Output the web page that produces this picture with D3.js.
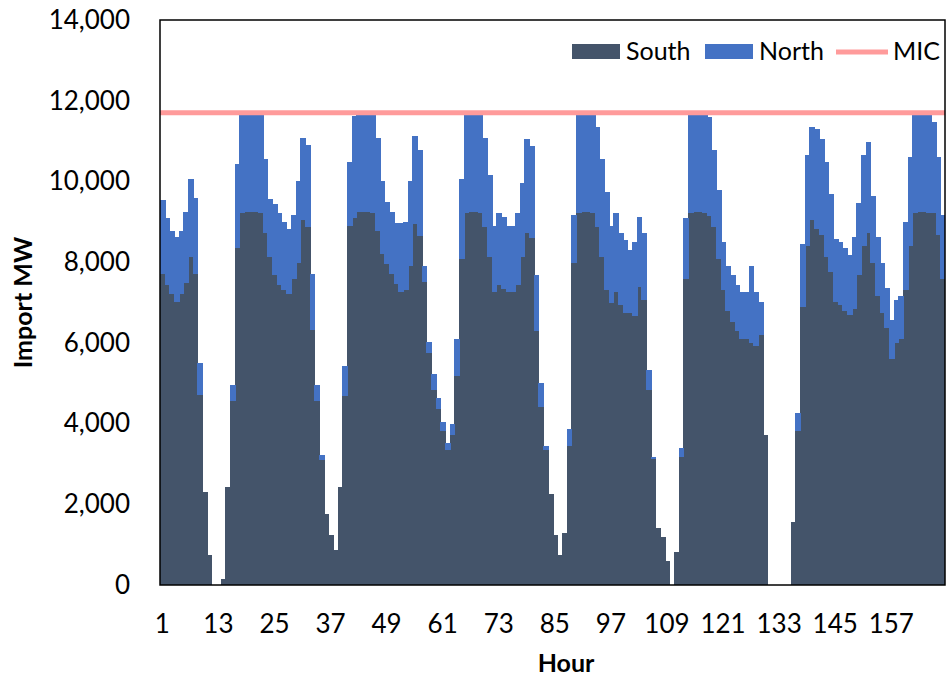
<!DOCTYPE html>
<html>
<head>
<meta charset="utf-8">
<script src="https://cdn.jsdelivr.net/npm/d3@7"></script>
<style>
  body { margin: 0; background: #fff; }
  text { font-family: Lato, "Open Sans", sans-serif; fill: #000; }
</style>
</head>
<body>
<div id="chart"></div>
<script>
// hours of the week (categories)
var hours = d3.range(1, 169);

// import MW, South part (one value per hour)
var south = [
  7710, 7440, 7210, 7020, 7210, 7480, 8120, 7710, 4720, 2300, 740, 0,
  0, 140, 2430, 4550, 8360, 9230, 9250, 9250, 9250, 9230, 8720, 8120,
  7670, 7440, 7300, 7210, 7570, 7990, 9040, 8860, 6330, 4550, 3100, 1750,
  1240, 870, 2430, 4680, 8900, 9100, 9250, 9250, 9250, 9230, 8760, 8200,
  7950, 7700, 7450, 7250, 7300, 7900, 8950, 8650, 7500, 5740, 4820, 4360,
  3810, 3350, 3720, 5190, 8080, 9230, 9250, 9250, 9230, 8860, 8120, 7250,
  7440, 7340, 7250, 7250, 7440, 8120, 8720, 8600, 6290, 4410, 3350, 2250,
  1250, 750, 1300, 3440, 7990, 9230, 9250, 9250, 9230, 8860, 8120, 7300,
  6980, 7250, 6930, 6750, 6750, 6660, 7390, 7070, 4820, 3120, 1420, 1190,
  600, 0, 830, 3170, 7570, 9230, 9250, 9250, 9230, 9150, 8860, 8080,
  7300, 6790, 6520, 6290, 6100, 6100, 6000, 5920, 6200, 3720, 0, 0,
  0, 0, 0, 1560, 3810, 6890, 8400, 9040, 8810, 8680, 8120, 7760,
  7020, 6930, 6790, 6700, 6840, 7670, 8400, 8720, 7990, 7160, 6750, 6380,
  5600, 6000, 6100, 7300, 8400, 9230, 9250, 9250, 9230, 9230, 8680, 7570
];

// import MW, North part (stacked on top of South)
var north = [
  1820, 1650, 1560, 1610, 1560, 1770, 1950, 1890, 790, 0, 0, 0,
  0, 0, 0, 410, 2060, 2420, 2430, 2430, 2430, 2420, 1840, 1450,
  1770, 1790, 1700, 1600, 1610, 2010, 2040, 2040, 1380, 410, 110, 0,
  0, 0, 0, 740, 1570, 2530, 2400, 2430, 2430, 2420, 2320, 1800,
  1550, 1550, 1520, 1720, 1700, 2100, 2180, 2140, 400, 270, 410, 280,
  230, 180, 280, 910, 1970, 2420, 2430, 2430, 2420, 2220, 2030, 1650,
  1790, 1790, 1650, 1650, 1790, 1840, 2320, 2280, 1380, 590, 90, 0,
  0, 0, 0, 420, 1190, 2420, 2430, 2430, 2420, 2480, 2440, 2430,
  1920, 1980, 1790, 1790, 1560, 1830, 1740, 1650, 500, 50, 0, 0,
  0, 0, 0, 230, 1520, 2420, 2430, 2430, 2420, 2450, 1930, 1700,
  1190, 1110, 1150, 1150, 1150, 1150, 1900, 1330, 820, 0, 0, 0,
  0, 0, 0, 0, 460, 1560, 2250, 2320, 2480, 2380, 2350, 1930,
  1560, 1560, 1560, 1470, 1790, 1790, 2250, 2250, 1650, 1470, 1240, 970,
  960, 1070, 1060, 1700, 2200, 2420, 2430, 2430, 2420, 2250, 1920, 1610
];

// MIC limit
var micLevel = 11700;

// tick labels
var yTicks = [0, 2000, 4000, 6000, 8000, 10000, 12000, 14000];
var xTickLabels = [1, 13, 25, 37, 49, 61, 73, 85, 97, 109, 121, 133, 145, 157];

var seriesNames = ["South", "North"];
var colors = { South: "#44546A", North: "#4472C4", MIC: "#FF9B9B" };

//Width and height
var w = 947;
var h = 677;
var plotLeft = 160, plotRight = 945, plotTop = 20, plotBottom = 585;

var svg = d3.select("#chart")
  .append("svg")
  .attr("width", w)
  .attr("height", h);

var rows = hours.map(function(hr, i) {
  return { hour: hr, South: south[i], North: north[i] };
});

var stacked = d3.stack().keys(seriesNames)(rows);

var x = d3.scaleBand()
  .domain(hours)
  .range([plotLeft, plotRight])
  .padding(0);

var y = d3.scaleLinear()
  .domain([0, 14000])
  .range([plotBottom, plotTop]);

// bars (no gap between columns)
svg.selectAll("g.series")
  .data(stacked)
  .enter()
  .append("g")
  .attr("class", "series")
  .attr("fill", function(d) { return colors[d.key]; })
  .attr("shape-rendering", "crispEdges")
  .selectAll("rect")
  .data(function(d) { return d; })
  .enter()
  .append("rect")
  .attr("x", function(d) { return x(d.data.hour); })
  .attr("y", function(d) { return y(d[1]); })
  .attr("width", function(d) {
    return Math.min(x.bandwidth() + 1, plotRight - x(d.data.hour));
  })
  .attr("height", function(d) { return y(d[0]) - y(d[1]); });

// MIC line
svg.append("line")
  .attr("x1", plotLeft)
  .attr("x2", plotRight)
  .attr("y1", y(micLevel))
  .attr("y2", y(micLevel))
  .attr("stroke", colors.MIC)
  .attr("stroke-width", 5);

// plot frame
svg.append("rect")
  .attr("x", plotLeft)
  .attr("y", plotTop)
  .attr("width", plotRight - plotLeft)
  .attr("height", plotBottom - plotTop)
  .attr("fill", "none")
  .attr("stroke", "#000")
  .attr("stroke-width", 1.5);

// axes
var yAxis = d3.axisLeft(y)
  .tickValues(yTicks)
  .tickFormat(d3.format(","))
  .tickSize(0)
  .tickPadding(30);

var xAxis = d3.axisBottom(x)
  .tickValues(xTickLabels)
  .tickSize(0)
  .tickPadding(30);

svg.append("g")
  .attr("transform", "translate(" + plotLeft + ",0)")
  .call(yAxis)
  .call(function(g) { g.select(".domain").remove(); })
  .selectAll("text")
  .style("font-size", "26px")
  .attr("fill", "#000");

svg.append("g")
  .attr("transform", "translate(0," + plotBottom + ")")
  .call(xAxis)
  .call(function(g) { g.select(".domain").remove(); })
  .selectAll("text")
  .style("font-size", "26px")
  .attr("fill", "#000");

// axis titles
svg.append("text")
  .attr("transform", "translate(32," + ((plotTop + plotBottom) / 2) + ") rotate(-90)")
  .attr("text-anchor", "middle")
  .style("font-size", "25px")
  .style("font-weight", "bold")
  .text("Import MW");

svg.append("text")
  .attr("x", 566)
  .attr("y", 672)
  .attr("text-anchor", "middle")
  .style("font-size", "25px")
  .style("font-weight", "bold")
  .text("Hour");

// legend
var legend = svg.append("g");

legend.append("rect")
  .attr("x", 572).attr("y", 44)
  .attr("width", 48).attr("height", 15)
  .attr("fill", colors.South);
legend.append("text")
  .attr("x", 626).attr("y", 60)
  .style("font-size", "25px")
  .text("South");

legend.append("rect")
  .attr("x", 705).attr("y", 44)
  .attr("width", 48).attr("height", 15)
  .attr("fill", colors.North);
legend.append("text")
  .attr("x", 759).attr("y", 60)
  .style("font-size", "25px")
  .text("North");

legend.append("line")
  .attr("x1", 836).attr("x2", 888)
  .attr("y1", 52).attr("y2", 52)
  .attr("stroke", colors.MIC)
  .attr("stroke-width", 5);
legend.append("text")
  .attr("x", 893).attr("y", 60)
  .style("font-size", "25px")
  .text("MIC");
</script>
</body>
</html>
